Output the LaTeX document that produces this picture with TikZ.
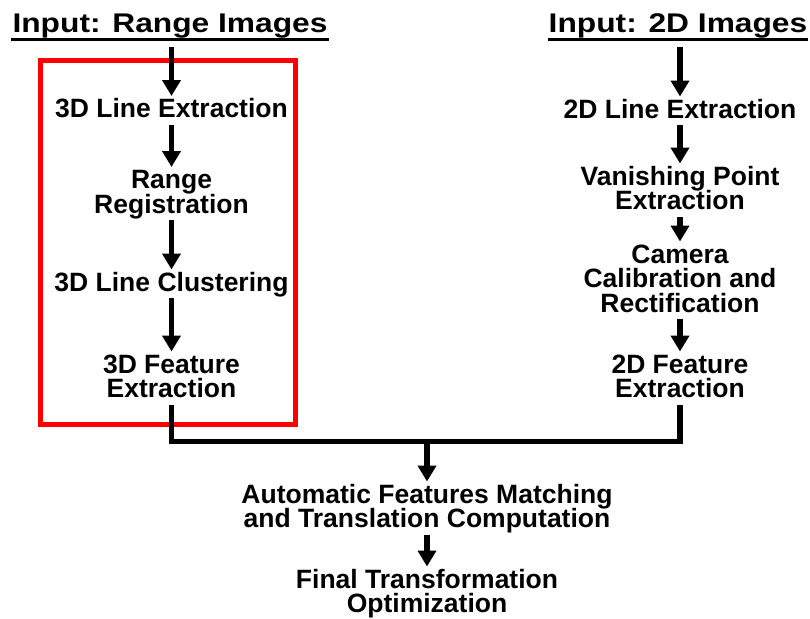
\documentclass[tikz,border=0pt]{standalone}
\usepackage{fontspec}
\setmainfont{Liberation Sans}
\newfontfamily\titlefont[FakeStretch=1.175]{Liberation Sans}
\usetikzlibrary{arrows.meta}
\newcommand\lnst{\rule[-7pt]{0pt}{28.5pt}}
\newcommand\ttst{\rule[-14pt]{0pt}{14pt}}
\protected\def\bodyfont{\fontsize{26.5pt}{24.5pt}\selectfont\bfseries\lineskiplimit=-100pt\relax}
\protected\def\ttlfont{\titlefont\fontsize{27pt}{30pt}\selectfont\bfseries}
\begin{document}
\begin{tikzpicture}[x=1pt,y=-1pt,
  proc/.style={inner sep=0pt, align=center, anchor=north, font=\bodyfont},
  ttl/.style={inner sep=0pt, anchor=base, font=\ttlfont},
  arr/.style={line width=5.5pt, -{Triangle[width=18pt,length=16pt]}},
  conn/.style={line width=5.5pt, line join=miter},
  uline/.style={line width=2.3pt},
  frame/.style={draw=red, line width=5pt, inner sep=0pt}
]
\useasboundingbox (0,0) rectangle (810,618);

\node[frame, minimum width=255pt, minimum height=364.5pt] (box) at (168,242.25) {};

\node[ttl] (t1) at (170,33) {\ttst Input: Range Images};
\node[ttl] (t2) at (678,33) {\ttst Input: 2D Images};
\draw[uline] ([shift={(-1,6.5)}]t1.base west) -- ([shift={(1,6.5)}]t1.base east);
\draw[uline] ([shift={(-1,6.5)}]t2.base west) -- ([shift={(1,6.5)}]t2.base east);

\node[proc] (a1) at (171.5,96) {\lnst 3D Line Extraction};
\node[proc] (a2) at (171.5,167) {\lnst Range\\\lnst Registration};
\node[proc] (a3) at (171.5,269.5) {\lnst 3D Line Clustering};
\node[proc] (a4) at (171.5,351.5) {\lnst 3D Feature\\\lnst Extraction};

\node[proc] (b1) at (680,96.5) {\lnst 2D Line Extraction};
\node[proc] (b2) at (680,163.5) {\lnst Vanishing Point\\\lnst Extraction};
\node[proc] (b3) at (680,241.5) {\lnst Camera\\\lnst Calibration and\\\lnst Rectification};
\node[proc] (b4) at (680,351.5) {\lnst 2D Feature\\\lnst Extraction};

\node[proc] (c1) at (427,481.5) {\lnst Automatic Features Matching\\\lnst and Translation Computation};
\node[proc] (c2) at (427,566.5) {\lnst Final Transformation\\\lnst Optimization};

\coordinate (j) at (427,441.5);

\draw[arr] (t1.south -| a1.north) -- (a1.north);
\draw[arr] (a1.south) -- (a2.north);
\draw[arr] (a2.south) -- (a3.north);
\draw[arr] (a3.south) -- (a4.north);

\draw[arr] (t2.south -| b1.north) -- (b1.north);
\draw[arr] (b1.south) -- (b2.north);
\draw[arr] (b2.south) -- (b3.north);
\draw[arr] (b3.south) -- (b4.north);

\draw[conn] (a4.south) |- (j) -| (b4.south);
\draw[arr] (j) -- (c1.north);
\draw[arr] (c1.south) -- (c2.north);
\end{tikzpicture}
\end{document}
